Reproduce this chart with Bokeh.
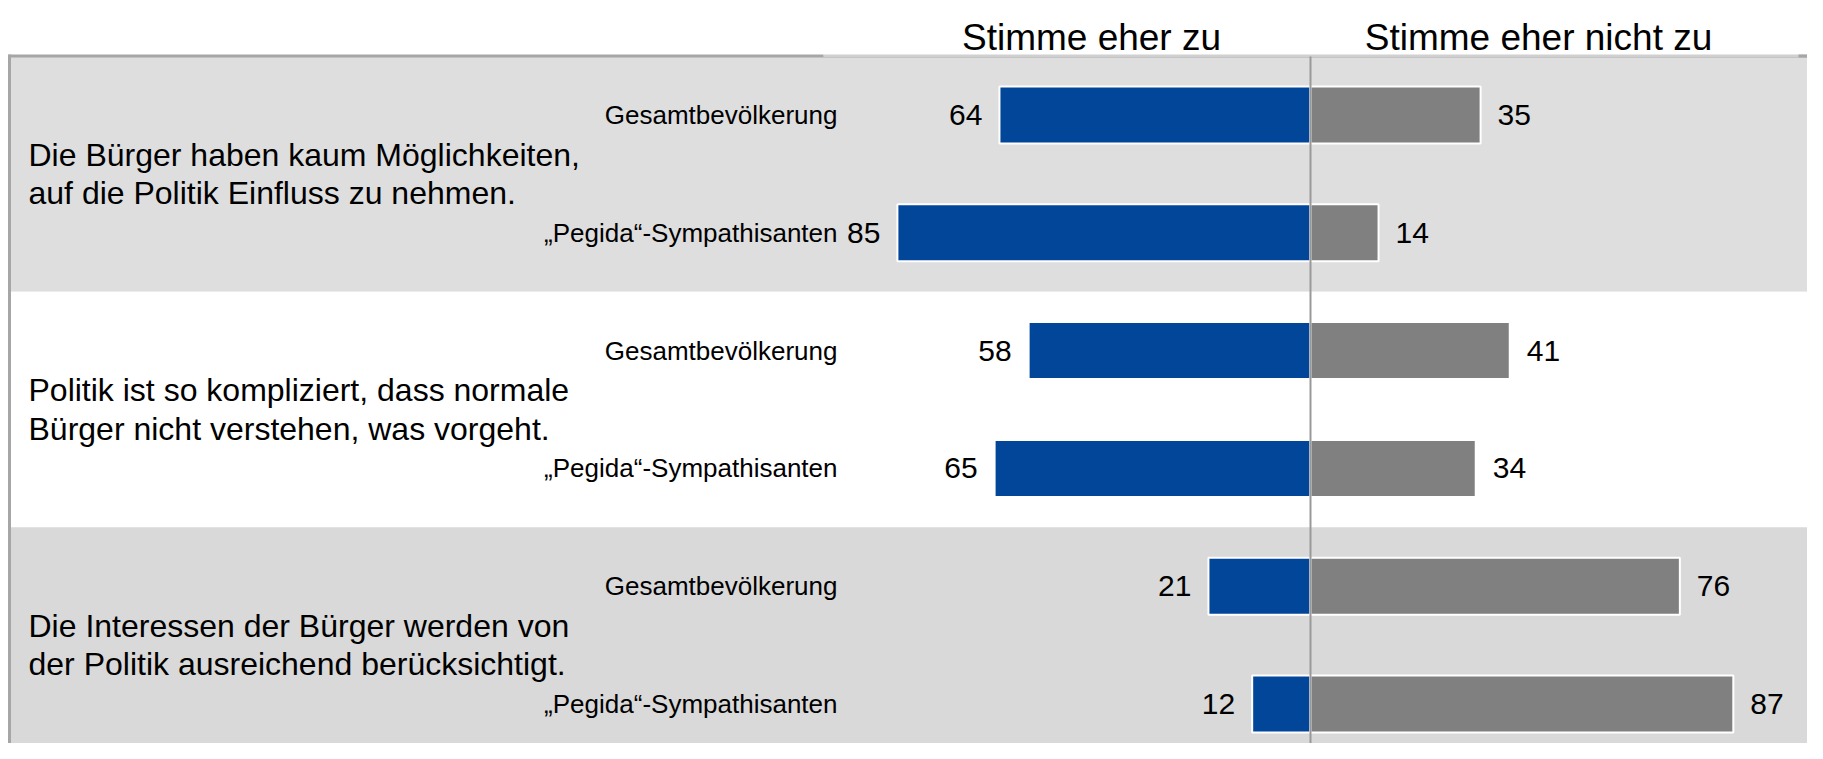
from bokeh.plotting import figure
from bokeh.models import Range1d, ColumnDataSource
from bokeh.embed import file_html
from bokeh.resources import INLINE
from bokeh.core.properties import value

# ---- data ----
statements = [
    "Die Bürger haben kaum Möglichkeiten,\nauf die Politik Einfluss zu nehmen.",
    "Politik ist so kompliziert, dass normale\nBürger nicht verstehen, was vorgeht.",
    "Die Interessen der Bürger werden von\nder Politik ausreichend berücksichtigt.",
]
groups = ["Gesamtbevölkerung", "\u201ePegida\u201c-Sympathisanten"]
agree = [64, 85, 58, 65, 21, 12]        # Stimme eher zu
disagree = [35, 14, 41, 34, 76, 87]     # Stimme eher nicht zu
headers = ["Stimme eher zu", "Stimme eher nicht zu"]

# ---- style / layout ----
FONT = value("Liberation Sans")
BLUE = "#02469A"
GREY = "#808080"
BAND_COLORS = ["#DEDEDE", "#FFFFFF", "#D9D9D9"]

W, H = 1807, 743
ZERO_PX, PX_PER_UNIT = 1310.0, 4.86
ROW0_PX, ROW_PX = 114.5, 117.8


def px_x(px):
    return (px - ZERO_PX) / PX_PER_UNIT


def px_y(px):
    return (px - ROW0_PX) / ROW_PX


X0, X1 = px_x(0), px_x(W)
Y_TOP, Y_BOT = px_y(0), px_y(H)

p = figure(width=W, height=H, output_backend="svg", toolbar_location=None,
           x_range=Range1d(X0, X1), y_range=Range1d(Y_BOT, Y_TOP),
           min_border=0, title=None)
p.axis.visible = False
p.grid.visible = False
p.outline_line_color = None
p.background_fill_color = "white"
p.border_fill_color = "white"

n_rows = len(agree)
rows = list(range(n_rows))
row_groups = [groups[i % len(groups)] for i in rows]

# background bands, one per statement
band_y = [2 * s + 0.5 for s in range(len(statements))]
p.hbar(y=band_y, left=px_x(9), right=X1, height=2.0,
       fill_color=BAND_COLORS, line_color=None)

# frame lines
top_y = px_y(55.5)
p.segment(x0=[px_x(823)], y0=[top_y], x1=[X1], y1=[top_y], line_color="#D0D0D0", line_width=3)
p.segment(x0=[px_x(823)], y0=[px_y(57)], x1=[X1], y1=[px_y(57)], line_color="#C4C4C4", line_width=1)
p.segment(x0=[px_x(8)], y0=[top_y], x1=[px_x(823)], y1=[top_y], line_color="#A6A6A6", line_width=3)
p.segment(x0=[px_x(1798)], y0=[top_y], x1=[X1], y1=[top_y], line_color="#A6A6A6", line_width=3)
p.segment(x0=[px_x(9)], y0=[px_y(54)], x1=[px_x(9)], y1=[Y_BOT], line_color="#A6A6A6", line_width=3)

src = ColumnDataSource(dict(
    y=rows,
    neg=[-a for a in agree],
    pos=disagree,
    agree_lbl=[str(a) for a in agree],
    dis_lbl=[str(d) for d in disagree],
    agree_x=[-a - 3.5 for a in agree],
    dis_x=[d + 3.5 for d in disagree],
    grp=row_groups,
))

p.hbar(y="y", left="neg", right=0, height=0.484, source=src,
       fill_color=BLUE, line_color="white", line_width=2)
p.hbar(y="y", left=0, right="pos", height=0.484, source=src,
       fill_color=GREY, line_color="white", line_width=2)

# zero line
p.segment(x0=[0], y0=[px_y(56)], x1=[0], y1=[Y_BOT], line_color="#999999", line_width=2)

# value labels
p.text(x="agree_x", y="y", text="agree_lbl", source=src, text_align="right",
       text_baseline="middle", text_font=FONT, text_font_size="30px", text_color="black")
p.text(x="dis_x", y="y", text="dis_lbl", source=src, text_align="left",
       text_baseline="middle", text_font=FONT, text_font_size="30px", text_color="black")

# group labels
p.text(x=px_x(837), y="y", text="grp", source=src, text_align="right",
       text_baseline="middle", text_font=FONT, text_font_size="26px", text_color="black")

# statements
p.text(x=[px_x(28)] * len(statements), y=band_y, text=statements, text_align="left",
       text_baseline="middle", text_font=FONT, text_font_size="32px",
       text_line_height=1.07, text_color="black")

# headers
p.text(x=[px_x(1091), px_x(1538)], y=[px_y(37)] * 2, text=headers, text_align="center",
       text_baseline="alphabetic", text_font=FONT, text_font_size="37px", text_color="black")

open("out.html", "w").write(file_html(p, INLINE))
